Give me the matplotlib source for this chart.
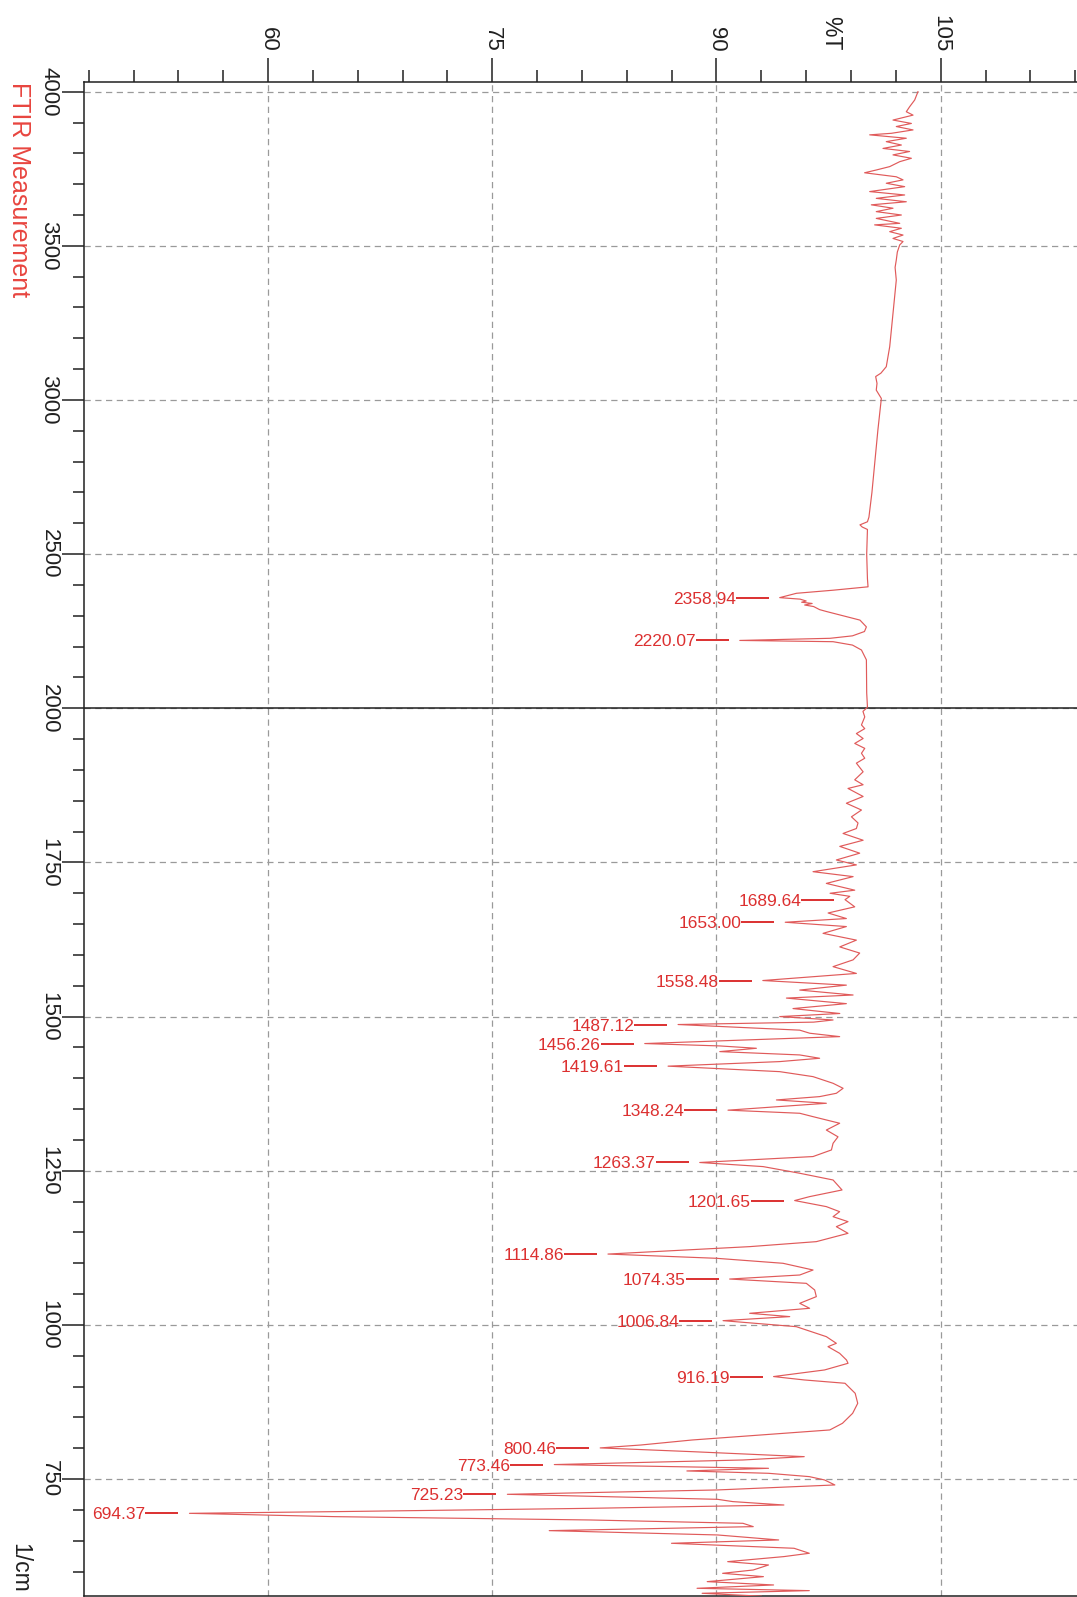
import numpy as np
import matplotlib
matplotlib.use("Agg")
import matplotlib.pyplot as plt
from matplotlib.ticker import FixedLocator, MultipleLocator, FuncFormatter, NullFormatter

plt.rcParams["font.family"] = ["Liberation Sans", "DejaVu Sans"]

# Spectrum: wavenumber (1/cm) and transmittance (%T), high to low wavenumber
wavenumber = [
    4000, 3973, 3951, 3935, 3924, 3908, 3897, 3887, 3876, 3865, 3860, 3849,
    3838, 3827, 3816, 3806, 3795, 3784, 3773, 3757, 3746, 3737, 3724, 3714,
    3703, 3692, 3676, 3665, 3654, 3643, 3633, 3622, 3611, 3600, 3589, 3573,
    3568, 3557, 3546, 3535, 3524, 3514, 3503, 3480, 3454, 3430, 3389, 3281,
    3173, 3108, 3087, 3076, 3054, 3032, 3005, 2903, 2800, 2700, 2620, 2605,
    2595, 2588, 2580, 2500, 2420, 2394, 2383, 2373, 2358.94, 2354, 2348, 2344,
    2340, 2335, 2330, 2320, 2314, 2297, 2286, 2264, 2249, 2235, 2227, 2220.07,
    2216, 2205, 2189, 2157, 2050, 2005, 2000, 1995,
    1986, 1973, 1967, 1959, 1951, 1943, 1935, 1927, 1919, 1911, 1897, 1884,
    1876, 1870, 1857, 1846, 1835, 1824, 1814, 1805, 1797, 1786, 1776, 1765,
    1754, 1746, 1735, 1727, 1716, 1705, 1700, 1695, 1689.64, 1678, 1668, 1659,
    1653.00, 1646, 1635, 1624, 1613, 1603, 1592, 1581, 1570, 1558.48, 1551, 1543,
    1535, 1530, 1521, 1513, 1505, 1500, 1494.5, 1491, 1487.12, 1478, 1473, 1467.5,
    1456.26, 1452.4, 1448.6, 1443.2, 1437.8, 1432.4, 1427, 1419.61, 1410.7, 1402.6,
    1397.2, 1391.8, 1383.7, 1375.6, 1370.2, 1364.8, 1359.4, 1348.24, 1343.2, 1337.7,
    1327, 1316, 1305, 1294.5, 1283.7, 1273, 1263.37, 1256.7, 1245.9, 1235,
    1218.8, 1208, 1201.65, 1191.8, 1183.6, 1175.5, 1167.4, 1159.3, 1148.5, 1135,
    1126.9, 1114.86, 1108, 1099.9, 1089, 1080.9, 1074.35, 1067.4, 1056.6, 1045.8,
    1035, 1026.9, 1018.8, 1013.4, 1006.84, 997.1, 980.9, 970.1, 964.7, 953.9,
    943, 937.7, 926.9, 916.19, 910.7, 905.3, 889, 872.8, 856.6, 840.4,
    829.6, 813.3, 805.2, 800.46, 794.4, 786.3, 780.9, 773.46, 767.4, 763.1,
    759.3, 753.9, 748.5, 740.4, 732.3, 725.23, 717.1, 713.4, 707.9, 702.5,
    697.1, 694.37, 689, 683.6, 678.2, 672.8, 666.3, 659.3, 651.2, 645.8,
    637.7, 629.6, 624.2, 616, 610.6, 602.5, 597.1, 591.7, 583.6, 578.2,
    572.8, 569, 564.7, 560,
]
transmittance = [
    103.48, 103.26, 102.92, 102.70, 103.15, 101.81, 103.04, 102.03, 103.15, 101.70, 100.25, 102.70,
    101.36, 102.37, 101.14, 102.92, 101.81, 103.04, 102.26, 101.59, 100.69, 99.91, 102.03, 102.48,
    101.36, 102.59, 100.25, 102.59, 100.69, 102.70, 100.36, 101.81, 100.69, 102.37, 100.69, 102.26,
    100.58, 102.37, 101.59, 102.48, 101.81, 102.48, 102.26, 102.10, 102.03, 101.95, 102.03, 101.81,
    101.59, 101.36, 101.00, 100.65, 100.74, 100.69, 101.03, 100.80, 100.60, 100.40, 100.20, 100.10,
    99.60, 99.75, 100.10, 100.05, 100.10, 100.14, 97.80, 95.35, 94.23, 95.60, 96.00, 95.70,
    96.40, 95.90, 96.50, 96.90, 97.35, 98.70, 99.60, 100.03, 99.90, 99.10, 97.60, 91.56,
    97.80, 99.10, 99.70, 100.03, 100.05, 100.10, 100.03, 99.80,
    99.92, 99.70, 99.92, 99.36, 99.81, 99.25, 99.92, 99.70, 99.92, 99.36, 99.81, 99.25,
    99.81, 98.80, 99.81, 98.69, 99.70, 99.03, 99.47, 99.36, 98.47, 99.81, 98.25, 99.58,
    98.02, 99.36, 96.46, 99.14, 97.35, 99.25, 97.60, 98.92, 98.60, 99.25, 97.47, 98.69,
    94.60, 98.69, 97.13, 99.36, 98.25, 99.58, 99.14, 97.80, 99.36, 93.10, 98.69, 95.57,
    99.14, 94.68, 98.69, 95.12, 98.25, 94.23, 97.80, 96.50, 87.43, 95.57, 96.24, 98.24,
    85.20, 90.22, 92.67, 90.22, 95.57, 96.90, 94.23, 86.76, 94.23, 96.46,
    97.13, 97.80, 98.47, 98.02, 96.90, 94.01, 97.35, 90.77, 95.57, 96.46,
    98.24, 97.35, 98.13, 97.80, 97.69, 96.46, 88.88, 93.12, 95.57, 97.80,
    98.40, 96.23, 95.23, 97.35, 98.24, 97.80, 98.80, 98.02, 98.80, 96.68,
    92.22, 82.74, 89.99, 94.45, 96.46, 95.57, 90.88, 96.01, 96.57, 96.68,
    95.57, 96.23, 92.22, 94.90, 90.44, 95.34, 97.35, 98.02, 97.46, 98.24,
    98.70, 98.80, 97.23, 93.82, 95.87, 98.60, 99.28, 99.45, 99.11, 98.43,
    97.58, 88.36, 84.95, 82.22, 88.36, 95.87, 91.77, 79.15, 93.48, 88.02,
    93.48, 96.21, 97.23, 97.92, 90.07, 76.01, 90.07, 91.09, 94.51, 81.54,
    64.47, 54.74, 64.47, 81.54, 91.77, 92.46, 78.81, 90.07, 94.16, 86.99,
    95.19, 96.21, 94.51, 90.75, 93.48, 92.46, 90.41, 93.14, 89.38, 93.82,
    88.70, 96.21, 89.04, 93.00,
]

# Labelled absorption peaks
peak_labels = [
    "2358.94", "2220.07", "1689.64", "1653.00", "1558.48", "1487.12", "1456.26",
    "1419.61", "1348.24", "1263.37", "1201.65", "1114.86", "1074.35", "1006.84",
    "916.19", "800.46", "773.46", "725.23", "694.37",
]

x_major = [60, 75, 90, 105]
y_major = [4000, 3500, 3000, 2500, 2000, 1750, 1500, 1250, 1000, 750]
y_minor = [v for v in range(2100, 4000, 100) if v % 500] + \
          [v for v in range(550, 2000, 50) if v % 250]

W = np.array(wavenumber, dtype=float)
T = np.array(transmittance, dtype=float)

# Wavenumber axis: above 2000 1/cm compressed by a factor of two
def fwd(w):
    w = np.asarray(w, dtype=float)
    return np.where(w >= 2000, w, 2 * w - 2000)

def inv(f):
    f = np.asarray(f, dtype=float)
    return np.where(f >= 2000, f, (f + 2000) / 2)

FIG_W, FIG_H = 1077, 1597
fig = plt.figure(figsize=(FIG_W / 100, FIG_H / 100), dpi=100)
ax_l, ax_r, ax_t, ax_b = 83.5, 1200.0, 81.7, 1596.0
ax = fig.add_axes([ax_l / FIG_W, (FIG_H - ax_b) / FIG_H,
                   (ax_r - ax_l) / FIG_W, (ax_b - ax_t) / FIG_H])
ax.set_yscale("function", functions=(fwd, inv))
x0, x1 = 47.65, 122.35
ax.set_xlim(x0, x1)
ax.set_ylim(560.3, 4032.4)

for side in ("left", "top", "bottom"):
    ax.spines[side].set_linewidth(1.1)
    ax.spines[side].set_color("#202020")
ax.spines["right"].set_visible(False)

ax.xaxis.tick_top()
ax.xaxis.set_major_locator(FixedLocator(x_major))
ax.xaxis.set_minor_locator(MultipleLocator(3))
ax.yaxis.set_major_locator(FixedLocator(y_major))
ax.yaxis.set_minor_locator(FixedLocator(y_minor))
ax.yaxis.set_major_formatter(FuncFormatter(lambda v, p: f"{v:.0f}"))
ax.yaxis.set_minor_formatter(NullFormatter())

ax.tick_params(axis="x", which="major", direction="out", length=17.3, width=1.1,
               labelsize=16, pad=4, labelrotation=-90, colors="#202020")
ax.tick_params(axis="x", which="minor", direction="out", length=8.6, width=1.1,
               colors="#202020")
ax.tick_params(axis="y", which="major", direction="out", length=15.8, width=1.1,
               labelsize=16, pad=1.5, labelrotation=-90, colors="#202020")
ax.tick_params(axis="y", which="minor", direction="out", length=8.0, width=1.1,
               colors="#202020")
for lbl in ax.get_yticklabels():
    lbl.set_verticalalignment("center")

ax.set_axisbelow(True)
ax.grid(True, which="major", color="#9a9a9a", linestyle=(0, (5, 3.6)), linewidth=0.9)
ax.axhline(2000, color="#202020", linewidth=1.1, zorder=2.5)

ax.plot(T, W, color="#e05a5a", linewidth=0.85, zorder=3)

# Peak markers: short lead line left of each peak tip, value written before it
px_per_unit = (ax_r - ax_l) / (x1 - x0)
gap = 11 / px_per_unit
lead = 33 / px_per_unit
for lab in peak_labels:
    w = float(lab)
    t = T[np.argmin(np.abs(W - w))]
    ax.plot([t - gap - lead, t - gap], [w, w], color="#dc3030", linewidth=1.4,
            solid_capstyle="butt", zorder=4)
    ax.text(t - gap - lead, w, lab, ha="right", va="center_baseline",
            fontsize=12.5, color="#dc3030", zorder=4)

fig.text(831 / FIG_W, 1 - 50 / FIG_H, "%T", rotation=-90, ha="center", va="bottom",
         fontsize=16.5, color="#202020")
fig.text(19 / FIG_W, 1 - 82 / FIG_H, "FTIR Measurement", rotation=-90, ha="center",
         va="top", fontsize=18, color="#e8453f")
fig.text(20 / FIG_W, 1 - 1543 / FIG_H, "1/cm", rotation=-90, ha="center", va="top",
         fontsize=16.5, color="#202020")

fig.savefig("out.png", dpi=100)
